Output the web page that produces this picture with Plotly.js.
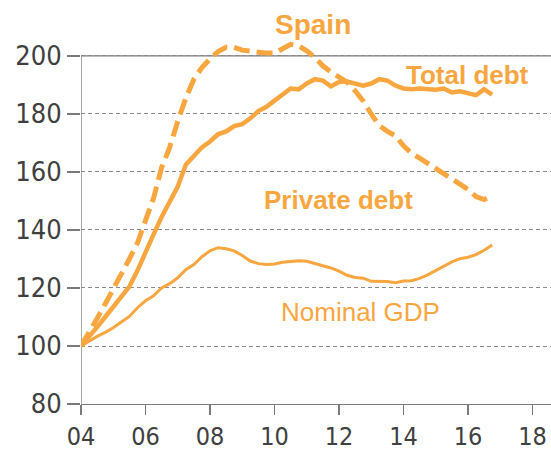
<!DOCTYPE html>
<html><head><meta charset="utf-8">
<script src="https://cdn.plot.ly/plotly-3.0.1.min.js"></script>
<style>body{margin:0;padding:0;background:#fff}#chart{width:551px;height:452px}</style>
</head><body><div id="chart"></div>
<script>
// Quarterly observations, 2004Q1 .. 2016Q4 (index 2004Q1 = 100)
const startYear = 2004;
const quartersPerYear = 4;

const totalDebt = [100,103,106.5,110,113.5,117,120.5,126,132.5,138.5,144.5,150,155,162.5,165.5,168.5,
  170.5,173,174,175.8,176.5,178.5,181,182.5,184.6,186.5,188.8,188.5,190.5,192,191.5,189.5,
  191,191.2,190.5,189.8,190.5,192,191.5,189.8,188.8,188.5,188.8,188.5,188.4,188.8,187.4,187.8,
  187.3,186.5,188.5,186.7];

const privateDebt = [100,104.5,109.5,114.5,119.5,125,130,135.5,143,151,161.5,168.5,177.5,185.5,192,196,
  199,201.5,203,203,202,201.5,201.3,201,201,202.5,204,203.5,201.8,199.5,196.6,194.5,
  192.5,191,188,184.5,180,176,174,172.5,169,166.5,164.8,163,161.5,159.8,158,156,
  154,151.5,150.5,151.8];

const nominalGDP = [100,101.8,103.3,104.7,106.3,108.3,110.2,113.2,115.6,117.3,120,121.5,123.5,126.3,128.1,130.8,
  132.8,133.9,133.5,132.8,131.2,129.3,128.4,128.1,128.3,128.9,129.1,129.4,129.2,128.4,127.7,126.9,
  125.8,124.4,123.6,123.4,122.3,122.3,122.2,121.8,122.4,122.5,123.3,124.5,126,127.7,129,130.1,
  130.6,131.5,133,134.8];

const tickYears = [2004,2006,2008,2010,2012,2014,2016,2018];
const tickLabels = ['04','06','08','10','12','14','16','18'];
const yTicks = [80,100,120,140,160,180,200];

const dates = totalDebt.map((_, i) => startYear + i / quartersPerYear);

const orange = '#F8A63F';
const axisGray = '#7a7a7a';
const labelFont = 'DejaVu Sans Condensed, Liberation Sans Narrow, Arial Narrow, sans-serif';

const traces = [
  {x: dates, y: nominalGDP, type: 'scatter', mode: 'lines', line: {color: orange, width: 3}, hoverinfo: 'skip'},
  {x: dates, y: totalDebt, type: 'scatter', mode: 'lines', line: {color: orange, width: 4.5}, hoverinfo: 'skip'},
  {x: dates, y: privateDebt, type: 'scatter', mode: 'lines', line: {color: orange, width: 5, dash: '16px,7px'}, hoverinfo: 'skip'}
];

const layout = {
  width: 551, height: 452,
  margin: {l: 81, r: 0, t: 0, b: 48, pad: 0},
  paper_bgcolor: '#fff', plot_bgcolor: '#fff',
  showlegend: false,
  xaxis: {
    range: [2004, 2018.574],
    tickvals: tickYears, ticktext: tickLabels,
    ticks: 'outside', ticklen: 10, tickwidth: 1.3, tickcolor: axisGray,
    showline: true, linecolor: axisGray, linewidth: 1.3,
    showgrid: false, zeroline: false,
    tickfont: {family: labelFont, size: 25, color: '#404040'}
  },
  yaxis: {
    range: [80, 219.3],
    tickvals: yTicks,
    ticks: 'outside', ticklen: 13, tickwidth: 1.3, tickcolor: axisGray,
    showline: false,
    showgrid: true, gridcolor: '#8a8a8a', gridwidth: 1, griddash: '4px,3px',
    zeroline: false,
    tickfont: {family: labelFont, size: 27, color: '#404040'}
  },
  shapes: [
    {type: 'line', xref: 'x', yref: 'y', x0: 2004, x1: 2004, y0: 80, y1: 200, line: {color: axisGray, width: 1.3}, layer: 'below'},
    {type: 'line', xref: 'paper', yref: 'y', x0: 0, x1: 1, y0: 200, y1: 200, line: {color: axisGray, width: 1.3}, layer: 'below'}
  ],
  annotations: [
    {x: 2011.19, y: 210.8, xref: 'x', yref: 'y', text: '<b>Spain</b>', showarrow: false, xanchor: 'center', yanchor: 'middle',
     font: {family: 'Liberation Sans, Arial, sans-serif', size: 28, color: orange}},
    {x: 2015.98, y: 193.5, xref: 'x', yref: 'y', text: '<b>Total debt</b>', showarrow: false, xanchor: 'center', yanchor: 'middle',
     font: {family: 'Liberation Sans, Arial, sans-serif', size: 26, color: orange}},
    {x: 2011.97, y: 150.4, xref: 'x', yref: 'y', text: '<b>Private debt</b>', showarrow: false, xanchor: 'center', yanchor: 'middle',
     font: {family: 'Liberation Sans, Arial, sans-serif', size: 26, color: orange}},
    {x: 2012.68, y: 111.8, xref: 'x', yref: 'y', text: 'Nominal GDP', showarrow: false, xanchor: 'center', yanchor: 'middle',
     font: {family: 'Liberation Sans, Arial, sans-serif', size: 26, color: orange}}
  ]
};

Plotly.newPlot('chart', traces, layout, {displayModeBar: false, staticPlot: true});
</script>
</body></html>
